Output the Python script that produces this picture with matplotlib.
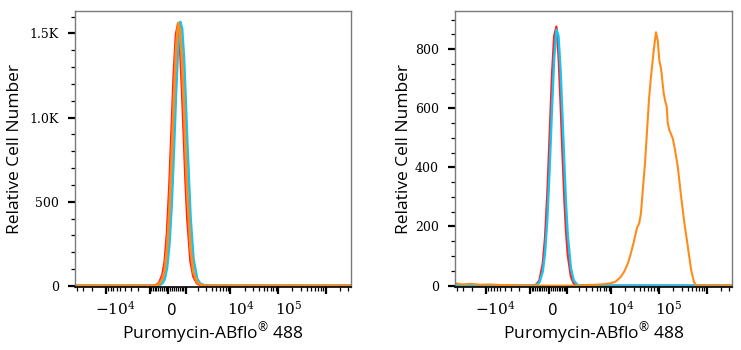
import numpy as np
import matplotlib
matplotlib.use("Agg")
import matplotlib.pyplot as plt
from matplotlib.ticker import FixedLocator, FixedFormatter, MultipleLocator
from matplotlib.transforms import ScaledTranslation

plt.rcParams["mathtext.fontset"] = "dejavuserif"

# ---------------- data ----------------
# shared fluorescence grid for the narrow (unstained / control) peaks
x_peak = [-45000, -2560, -1490, -1110, -870, -630, -457, -283, -169, -58, 54, 164, 274,
          386, 497, 611, 720, 839, 944, 1060, 1297, 1540, 1900, 2260, 2870, 3510,
          4840, 7570, 3400000]

red_left = [0, 0, 0, 0, 0, 4, 16, 65, 143, 311, 581, 922, 1261, 1494, 1555, 1411, 1166,
            869, 616, 403, 147, 55, 14, 4, 0, 0, 0, 0, 0]
orange_left = [0, 0, 0, 0, 0, 3, 10, 42, 94, 220, 440, 752, 1104, 1404, 1562, 1513, 1329,
               1053, 786, 544, 220, 80, 20, 6, 1, 0, 0, 0, 0]
cyan_left = [0, 0, 0, 0, 0, 0, 2, 16, 40, 107, 243, 473, 792, 1143, 1424, 1568, 1530,
             1352, 1111, 845, 408, 162, 40, 12, 3, 0, 0, 0, 0]

red_right = [0, 0, 0, 0, 0, 3, 17, 73, 161, 310, 508, 707, 844, 876, 782, 621, 450, 292,
             183, 105, 30, 7, 1, 0, 0, 0, 0, 0, 0]
cyan_right = [0, 0, 0, 0, 0, 2, 10, 47, 110, 225, 396, 594, 768, 866, 845, 730, 574, 409,
              277, 173, 59, 17, 2, 0, 0, 0, 0, 0, 0]

x_orange_right = [-45000, -31900, -21600, -13300, -8200, -5040, -3060, -1800, 2240, 2900,
                  4800, 7100, 9970, 12700, 16200, 19000, 22700, 26300, 30400, 35100,
                  39200, 42600, 46900, 51700, 56900, 62700, 69000, 78700, 87900, 95400,
                  103100, 111900, 127500, 137700, 147400, 154600, 167100, 196900, 220000,
                  250500, 294000, 344800, 406000, 476500, 542500, 606000, 3400000]
orange_right = [8, 4, 6, 3, 4, 2, 2, 0, 0, 2, 3, 5, 8, 14, 30, 47, 75, 110, 150, 195,
                211, 245, 330, 413, 520, 630, 706, 796, 857, 830, 762, 734, 650, 622, 605,
                549, 526, 498, 458, 402, 301, 211, 132, 53, 13, 0, 0]

x_major = [-1e4, -1e3, 0, 1e3, 1e4, 1e5, 1e6]
x_major_labels = [r"$-10^4$", "", "0", "", r"$10^4$", r"$10^5$", ""]
x_label_shift_px = [9.5, 0, 4, 0, 10.5, 10.5, 0]

ylim_left = (-4, 1635)
ylim_right = (-3, 930)
xlim = (-45000, 3400000)

RED = "#ff2424"
CYAN = "#18c4f0"
ORANGE = "#ff8c1a"

C = 1000.0


def fwd(x):
    return np.arcsinh(np.asarray(x, dtype=float) / C)


def inv(y):
    return C * np.sinh(np.asarray(y, dtype=float))


minor = []
for n in range(2, 7):
    for k in range(1, 10):
        v = k * 10 ** n
        if v in x_major:
            continue
        for s in (-1, 1):
            if xlim[0] < s * v < xlim[1]:
                minor.append(s * v)

W, H = 741, 350
fig = plt.figure(figsize=(W / 100, H / 100), dpi=100)


def make_axes(left_px, right_px, ylim, ymajor, yminor, yfmt):
    ax = fig.add_axes([left_px / W, (H - 286.5) / H, (right_px - left_px) / W, 275.8 / H])
    ax.set_xscale("function", functions=(fwd, inv))
    ax.set_xlim(*xlim)
    ax.set_ylim(*ylim)
    ax.xaxis.set_major_locator(FixedLocator(x_major))
    ax.xaxis.set_major_formatter(FixedFormatter(x_major_labels))
    ax.xaxis.set_minor_locator(FixedLocator(minor))
    ax.yaxis.set_major_locator(MultipleLocator(ymajor))
    ax.yaxis.set_minor_locator(MultipleLocator(yminor))
    ax.yaxis.set_major_formatter(yfmt)
    for s in ("top", "right", "left"):
        ax.spines[s].set_color("#7a7a7a")
        ax.spines[s].set_linewidth(1.0)
    ax.spines["bottom"].set_color("black")
    ax.spines["bottom"].set_linewidth(1.2)
    ax.tick_params(axis="both", which="major", direction="out", length=5, width=1.6,
                   color="black")
    ax.tick_params(axis="both", which="minor", direction="out", length=3, width=0.9,
                   color="black")
    ax.tick_params(axis="x", which="major", pad=15.5)
    ax.tick_params(axis="y", which="major", pad=6.5)
    for lab in ax.get_yticklabels():
        lab.set_fontfamily("DejaVu Serif")
        lab.set_fontsize(9)
    for lab, dx in zip(ax.get_xticklabels(), x_label_shift_px):
        lab.set_fontsize(11)
        lab.set_verticalalignment("baseline")
        lab.set_transform(lab.get_transform() + ScaledTranslation(dx / 100, 0, fig.dpi_scale_trans))
    ax.set_xlabel(r"Puromycin-ABflo$^{\mathregular{®}}$ 488", fontfamily="Open Sans",
                  fontsize=12.5)
    ax.set_ylabel("Relative Cell Number", fontfamily="Open Sans", fontsize=12.5)
    return ax


def fmt_left(v, pos):
    if v == 0:
        return "0"
    if v >= 1000:
        return f"{v/1000:.1f}K"
    return f"{int(v)}"


def fmt_right(v, pos):
    return f"{int(v)}"


axL = make_axes(75, 351, ylim_left, 500, 100, fmt_left)
axL.plot(x_peak, red_left, color=RED, lw=1.9)
axL.plot(x_peak, cyan_left, color=CYAN, lw=1.9)
axL.plot(x_peak, orange_left, color=ORANGE, lw=1.9)
axL.xaxis.set_label_coords(0.5, -0.122)
axL.yaxis.set_label_coords(-0.19, 0.5)

axR = make_axes(455, 732, ylim_right, 200, 50, fmt_right)
axR.plot(x_peak, red_right, color=RED, lw=1.7)
axR.plot(x_peak, cyan_right, color=CYAN, lw=1.7)
axR.plot(x_orange_right, orange_right, color=ORANGE, lw=1.5)
axR.xaxis.set_label_coords(0.5, -0.122)
axR.yaxis.set_label_coords(-0.155, 0.5)

fig.savefig("out.png", dpi=100)
